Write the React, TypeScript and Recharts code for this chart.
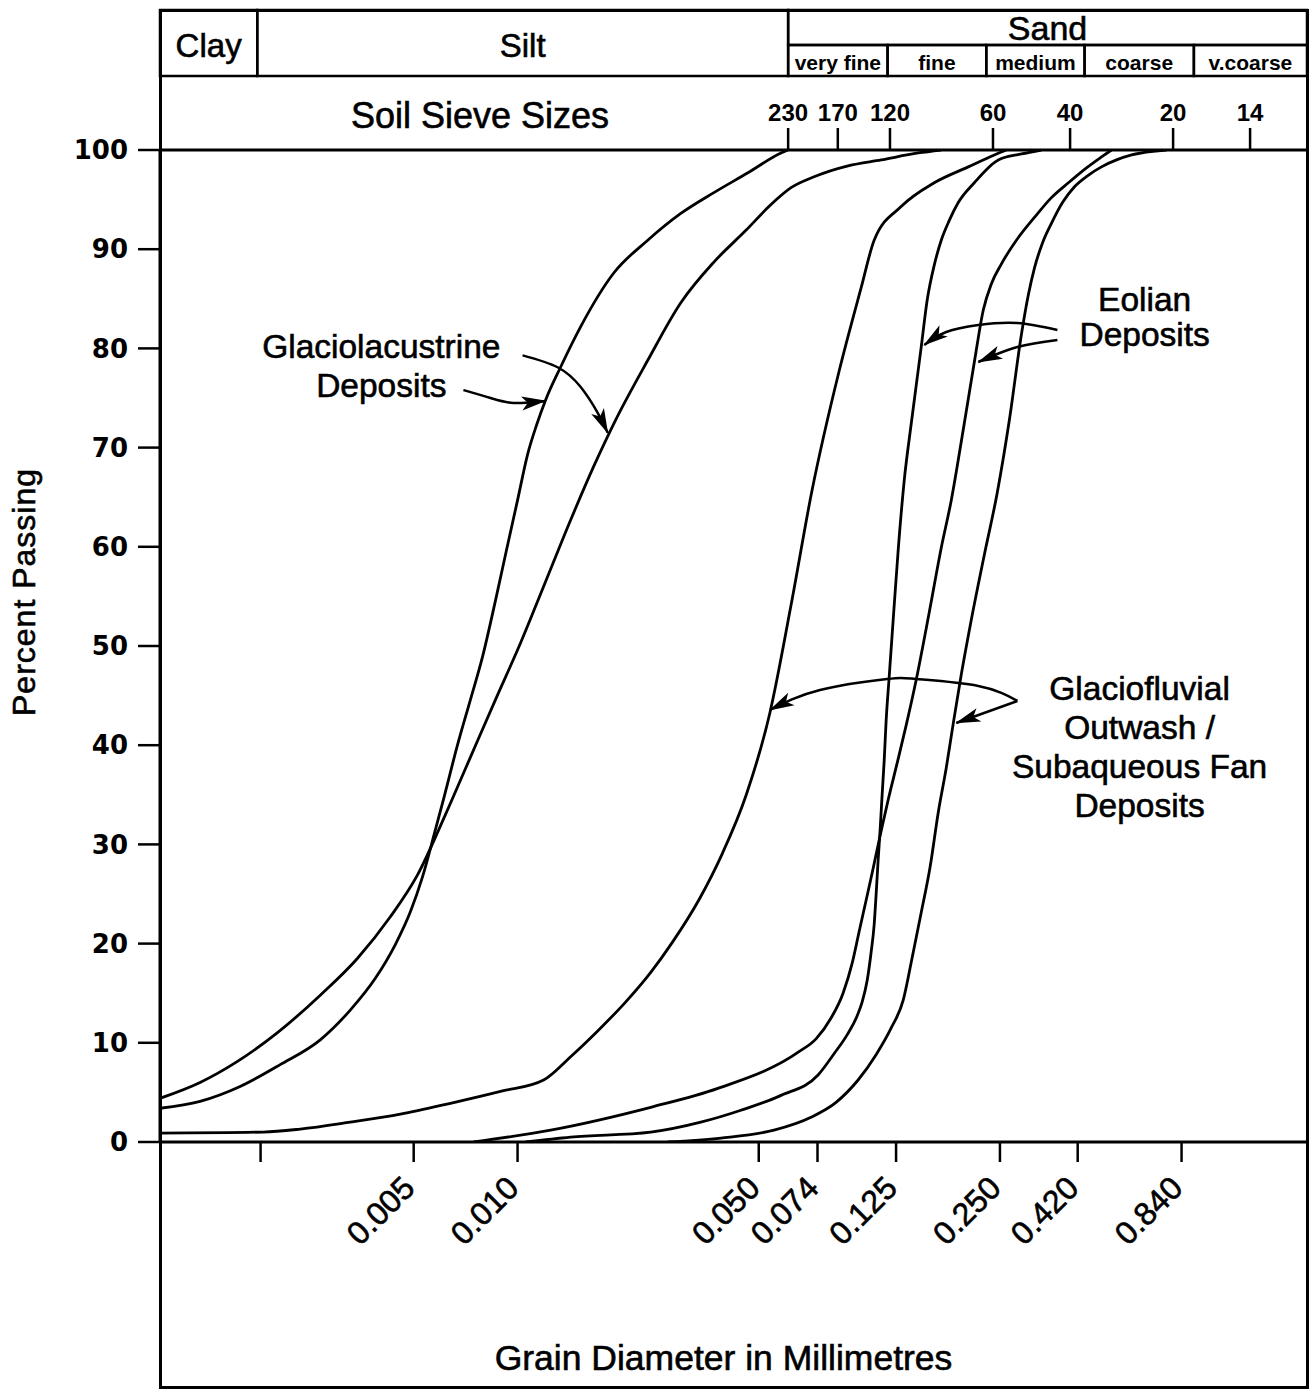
import React from 'react';
import { LineChart, Line, XAxis, YAxis, ReferenceArea, ReferenceDot } from 'recharts';

const SANS = '"Liberation Sans", Arial, Helvetica, sans-serif';
const ROUND = '"DejaVu Sans", "Liberation Sans", sans-serif';

// ---- Grain-size curves: [grain diameter (mm), percent passing] ----
const glaciolacustrineA: number[][] = [
  [0.00092, 3.4], [0.001202, 4.1], [0.00157, 5.6], [0.002051, 7.8], [0.002681, 10.3],
  [0.003275, 13.3], [0.003871, 16.5], [0.004423, 19.9], [0.004891, 23.2], [0.0053, 26.7],
  [0.005742, 31.1], [0.006138, 34.9], [0.006696, 40.0], [0.007303, 44.6], [0.007914, 48.9],
  [0.008632, 54.6], [0.009292, 59.7], [0.01, 64.7], [0.01069, 69.3], [0.01136, 72.3],
  [0.01206, 74.8], [0.01332, 78.1], [0.01524, 82.2], [0.019, 87.6], [0.02384, 90.9],
  [0.02972, 93.6], [0.03706, 95.7], [0.04651, 97.7], [0.058, 99.7], [0.0608, 100],
];
const glaciolacustrineB: number[][] = [
  [0.00092, 4.4], [0.001202, 6.0], [0.001539, 8.1], [0.002011, 11.0], [0.002681, 14.8],
  [0.003433, 18.5], [0.004279, 22.7], [0.005125, 26.9], [0.00618, 33.0], [0.007303, 38.8],
  [0.008632, 44.6], [0.0102, 50.3], [0.01206, 56.5], [0.01425, 62.7], [0.01662, 68.1],
  [0.01925, 72.8], [0.02384, 78.8], [0.02972, 84.6], [0.03706, 88.7], [0.0459, 91.9],
  [0.05425, 94.5], [0.06201, 96.2], [0.07232, 97.3], [0.09074, 98.4], [0.1132, 99.0],
  [0.1449, 99.7], [0.169, 100],
];
const glaciofluvialFine: number[][] = [
  [0.00092, 0.9], [0.001831, 1.0], [0.002345, 1.3], [0.003275, 2.0], [0.004575, 2.8],
  [0.00639, 3.9], [0.008926, 5.1], [0.0119, 6.25], [0.01425, 8.6], [0.01707, 11.2],
  [0.02031, 13.9], [0.02432, 17.1], [0.02818, 20.2], [0.03352, 24.4], [0.03924, 29.1],
  [0.0459, 34.9], [0.05389, 43.3], [0.06201, 54.1], [0.07136, 65.7], [0.08546, 77.7],
  [0.09899, 86.1], [0.108, 90.9], [0.1293, 94.3], [0.1613, 96.7], [0.2024, 98.3],
  [0.2408, 99.5], [0.2609, 100],
];
const eolianA: number[][] = [
  [0.007451, 0], [0.01247, 1.2], [0.02432, 3.5], [0.03807, 5.4], [0.0654, 9.1],
  [0.07328, 10.4], [0.08101, 12.5], [0.08777, 15.0], [0.09322, 18.0], [0.09768, 21.2],
  [0.1024, 24.4], [0.1073, 27.6], [0.1124, 30.9], [0.1186, 34.5], [0.1259, 38.2],
  [0.1337, 42.0], [0.143, 46.6], [0.156, 53.4], [0.169, 59.9], [0.1807, 64.7],
  [0.1957, 71.8], [0.2107, 78.6], [0.2238, 83.9], [0.236, 86.5], [0.2523, 88.5],
  [0.279, 90.9], [0.3147, 93.2], [0.3525, 95.2], [0.3949, 96.7], [0.4454, 98.2],
  [0.4923, 99.3], [0.5263, 100],
];
const eolianB: number[][] = [
  [0.01055, 0], [0.01425, 0.5], [0.02432, 1.0], [0.03397, 2.0], [0.04439, 3.2],
  [0.058, 4.7], [0.07428, 6.75], [0.08265, 8.9], [0.09016, 10.8], [0.09638, 12.7],
  [0.09966, 14.1], [0.1031, 16.3], [0.1059, 19.2], [0.108, 21.9], [0.1094, 24.9],
  [0.1109, 28.4], [0.1124, 31.5], [0.1139, 35.0], [0.1155, 38.5], [0.117, 42.5],
  [0.1194, 46.9], [0.1226, 52.6], [0.1268, 59.7], [0.132, 66.7], [0.1383, 72.4],
  [0.1478, 80.1], [0.1539, 84.9], [0.1613, 88.4], [0.169, 90.9], [0.1783, 92.9],
  [0.1893, 94.7], [0.2107, 96.7], [0.2473, 99.0], [0.2885, 99.6], [0.3297, 100],
];
const glaciofluvialCoarse: number[][] = [
  [0.02725, 0], [0.03884, 0.4], [0.05535, 1.2], [0.07088, 2.5], [0.08377, 4.0],
  [0.09703, 6.25], [0.1094, 8.8], [0.121, 11.5], [0.1311, 14.3], [0.1392, 18.6],
  [0.1478, 23.1], [0.157, 27.8], [0.1656, 33.2], [0.1747, 37.7], [0.1831, 42.2],
  [0.1931, 47.1], [0.2064, 52.6], [0.2253, 59.2], [0.2457, 65.5], [0.2663, 72.8],
  [0.2885, 81.4], [0.3022, 85.4], [0.3147, 88.1], [0.3319, 90.6], [0.3525, 92.6],
  [0.3795, 94.7], [0.4111, 96.3], [0.4484, 97.4], [0.4923, 98.3], [0.5443, 99.0],
  [0.6017, 99.5], [0.7603, 100],
];

// ---- Annotation arrows: [mm, percent] (last point = arrow tip) ----
const arrowLacustrineA: number[][] = [[0.006969, 75.8], [0.008348, 75.0], [0.009736, 74.5], [0.01206, 74.7]];
const arrowLacustrineB: number[][] = [[0.01034, 79.3], [0.01306, 78.1], [0.01524, 76.1], [0.01707, 73.5], [0.01825, 71.5]];
const arrowEolianA: number[][] = [[0.3669, 81.85], [0.2809, 82.56], [0.2164, 82.36], [0.1747, 81.65], [0.1508, 80.34]];
const arrowEolianB: number[][] = [[0.3669, 80.85], [0.2809, 80.14], [0.2164, 78.63]];
const arrowFluvialA: number[][] = [[0.2809, 44.46], [0.2164, 45.97], [0.143, 46.67], [0.1178, 46.67], [0.07525, 45.56], [0.05389, 43.55]];
const arrowFluvialB: number[][] = [[0.2809, 44.46], [0.1868, 42.24]];

// ---- Annotation texts: anchor [mm, percent] and lines ----
const noteLacustrineAt = [0.004029, 79.03];
const noteLacustrine = ['Glaciolacustrine', 'Deposits'];
const noteEolianAt = [0.6565, 83.77];
const noteEolian = ['Eolian', 'Deposits'];
const noteFluvialAt = [0.6348, 44.56];
const noteFluvial = ['Glaciofluvial', 'Outwash /', 'Subaqueous Fan', 'Deposits'];

// ---- Axes ----
const X_DOMAIN = [0.00092, 1.94];
const xTicks = [0.0018, 0.005, 0.01, 0.05, 0.074, 0.125, 0.25, 0.42, 0.84];
const xTickLabels = ['', '0.005', '0.010', '0.050', '0.074', '0.125', '0.250', '0.420', '0.840'];
const yTicks = [0, 10, 20, 30, 40, 50, 60, 70, 80, 90, 100];

const SIEVE_DOMAIN = [0.00092, 2.068];
const sieveSizesMm = [0.063, 0.088, 0.125, 0.25, 0.42, 0.84, 1.41];
const sieveNumbers = ['230', '170', '120', '60', '40', '20', '14'];

// Size classes (mm edges on the sieve scale)
const gradeNames = ['Clay', 'Silt', 'Sand'];
const gradeEdges = [0.00177, 0.063];
const sandNames = ['very fine', 'fine', 'medium', 'coarse', 'v.coarse'];
const sandEdges = [0.063, 0.123, 0.239, 0.463, 0.966];
// header band levels (percent units above the 100 line)
const HEADER_TOP = 114.11;
const HEADER_MID = 110.58;
const HEADER_BOTTOM = 107.46;

const rows = (pts: number[][]) => pts.map(([d, p]) => ({ d, p }));

const curves = [glaciolacustrineA, glaciolacustrineB, glaciofluvialFine, eolianA, eolianB, glaciofluvialCoarse];
const arrows = [arrowLacustrineA, arrowLacustrineB, arrowEolianA, arrowEolianB, arrowFluvialA, arrowFluvialB];

function XTick(props: any) {
  const { x, y, payload } = props;
  const i = xTicks.indexOf(payload.value);
  const label = xTickLabels[i] ?? '';
  if (!label) return <g />;
  const ax = x + 3;
  const ay = y + 26;
  return (
    <text x={ax} y={ay} transform={`rotate(-45 ${ax} ${ay})`} textAnchor="end"
      fontFamily={SANS} fontSize={32} fill="#000" stroke="#000" strokeWidth={0.6}>{label}</text>
  );
}

function SieveTick(props: any) {
  const { x, y, payload } = props;
  const i = sieveSizesMm.indexOf(payload.value);
  return (
    <text x={x} y={y - 5} textAnchor="middle" fontFamily={SANS} fontWeight="bold" fontSize={24} fill="#000">
      {sieveNumbers[i]}
    </text>
  );
}

function CellText(props: any) {
  const { viewBox, txt, size, bold, pad } = props;
  const { x, y, width, height } = viewBox;
  return (
    <text x={x + width / 2} y={y + height - pad} textAnchor="middle" fontFamily={SANS}
      fontSize={size} fontWeight={bold ? 'bold' : 'normal'} fill="#000"
      stroke={bold ? 'none' : '#000'} strokeWidth={bold ? 0 : 0.6}>{txt}</text>
  );
}

function NoteText(props: any) {
  const { viewBox, lines, gap } = props;
  const cx = viewBox.x + (viewBox.width || 0) / 2;
  const cy = viewBox.y + (viewBox.height || 0) / 2;
  return (
    <g>
      {lines.map((s: string, i: number) => (
        <text key={i} x={cx} y={cy + i * gap} textAnchor="middle" fontFamily={SANS} fontSize={33.5}
          fill="#000" stroke="#000" strokeWidth={0.6}>{s}</text>
      ))}
    </g>
  );
}

function XTitle(props: any) {
  const { viewBox } = props;
  const cx = viewBox.x + viewBox.width / 2 - 10;
  return (
    <text x={cx} y={viewBox.y + 228} textAnchor="middle" fontFamily={SANS} fontSize={35.5}
      fill="#000" stroke="#000" strokeWidth={0.6}>Grain Diameter in  Millimetres</text>
  );
}

function SieveTitle(props: any) {
  const { viewBox } = props;
  return (
    <text x={viewBox.x + 320} y={viewBox.y + 53} textAnchor="middle" fontFamily={SANS} fontSize={36}
      fill="#000" stroke="#000" strokeWidth={0.6}>Soil Sieve Sizes</text>
  );
}

function YTitle(props: any) {
  const { viewBox } = props;
  const x = viewBox.x + 35;
  const y = 592;
  return (
    <text x={x} y={y} transform={`rotate(-90 ${x} ${y})`} textAnchor="middle" fontFamily={SANS}
      fontSize={32} letterSpacing={1} fill="#000" stroke="#000" strokeWidth={0.6}>Percent Passing</text>
  );
}

export default function App() {
  const allEdges = [undefined, ...gradeEdges, undefined];
  const sandAll = [...sandEdges, undefined];
  return (
    <div style={{ position: 'absolute', left: 0, top: 0, width: 1316, height: 1391, background: '#fff' }}>
      <svg width={0} height={0} style={{ position: 'absolute' }}>
        <defs>
          <marker id="arrowhead" markerWidth={26} markerHeight={16} refX={24} refY={8} orient="auto"
            markerUnits="userSpaceOnUse">
            <path d="M0,1 L25,8 L0,15 L6,8 Z" fill="#000" />
          </marker>
        </defs>
      </svg>
      <div style={{ position: 'absolute', left: 159, top: 9, width: 1150, height: 1380, border: '3px solid #000', boxSizing: 'border-box' }} />
      <div style={{ position: 'absolute', left: 0, top: 0 }}>
        <LineChart width={1316} height={1391} margin={{ top: 75, right: 9, bottom: 129, left: 0 }}>
          <XAxis dataKey="d" type="number" scale="log" domain={X_DOMAIN} allowDataOverflow ticks={xTicks}
            interval={0} tick={<XTick />} tickSize={20} height={120}
            tickLine={{ stroke: '#000', strokeWidth: 2.5 }} axisLine={{ stroke: '#000', strokeWidth: 3 }}
            label={<XTitle />} />
          <XAxis xAxisId="sieve" dataKey="d" orientation="top" type="number" scale="log" domain={SIEVE_DOMAIN}
            allowDataOverflow ticks={sieveSizesMm} interval={0} tick={<SieveTick />} tickSize={22} height={75}
            tickLine={{ stroke: '#000', strokeWidth: 2.5 }} axisLine={{ stroke: '#000', strokeWidth: 3 }}
            label={<SieveTitle />} />
          <YAxis type="number" domain={[0, 100]} allowDataOverflow ticks={yTicks} interval={0} width={160}
            tickSize={22} tickMargin={10}
            tick={{ fontFamily: ROUND, fontWeight: 'bold', fontSize: 26, fill: '#000' }}
            tickLine={{ stroke: '#000', strokeWidth: 2.5 }} axisLine={{ stroke: '#000', strokeWidth: 3 }}
            label={<YTitle />} />

          {/* invisible series that binds the sieve scale */}
          <Line xAxisId="sieve" data={rows(sieveSizesMm.map((s) => [s, 100]))} dataKey="p" stroke="none"
            dot={false} activeDot={false} isAnimationActive={false} />

          {gradeNames.slice(0, 2).map((name, i) => (
            <ReferenceArea key={name} xAxisId="sieve" x1={allEdges[i]} x2={allEdges[i + 1]}
              y1={HEADER_BOTTOM} y2={HEADER_TOP} ifOverflow="visible" fill="none" stroke="#000" strokeWidth={2.5}
              label={<CellText txt={name} size={33} pad={19} />} />
          ))}
          <ReferenceArea xAxisId="sieve" x1={gradeEdges[1]} y1={HEADER_MID} y2={HEADER_TOP} ifOverflow="visible"
            fill="none" stroke="#000" strokeWidth={2.5} label={<CellText txt={gradeNames[2]} size={34} pad={5} />} />
          {sandNames.map((name, i) => (
            <ReferenceArea key={name} xAxisId="sieve" x1={sandAll[i]} x2={sandAll[i + 1]}
              y1={HEADER_BOTTOM} y2={HEADER_MID} ifOverflow="visible" fill="none" stroke="#000" strokeWidth={2.5}
              label={<CellText txt={name} size={21} bold pad={6} />} />
          ))}

          {curves.map((c, i) => (
            <Line key={`c${i}`} data={rows(c)} dataKey="p" type="monotone" stroke="#000" strokeWidth={2.8}
              dot={false} activeDot={false} isAnimationActive={false} strokeLinejoin="round" />
          ))}
          {arrows.map((a, i) => (
            <Line key={`a${i}`} data={rows(a)} dataKey="p" type="natural" stroke="#000" strokeWidth={2.5}
              dot={false} activeDot={false} isAnimationActive={false} markerEnd="url(#arrowhead)" />
          ))}

          <ReferenceDot x={noteLacustrineAt[0]} y={noteLacustrineAt[1]} r={0} stroke="none" fill="none"
            label={<NoteText lines={noteLacustrine} gap={39} />} />
          <ReferenceDot x={noteEolianAt[0]} y={noteEolianAt[1]} r={0} stroke="none" fill="none"
            label={<NoteText lines={noteEolian} gap={35} />} />
          <ReferenceDot x={noteFluvialAt[0]} y={noteFluvialAt[1]} r={0} stroke="none" fill="none"
            label={<NoteText lines={noteFluvial} gap={39} />} />
        </LineChart>
      </div>
    </div>
  );
}
